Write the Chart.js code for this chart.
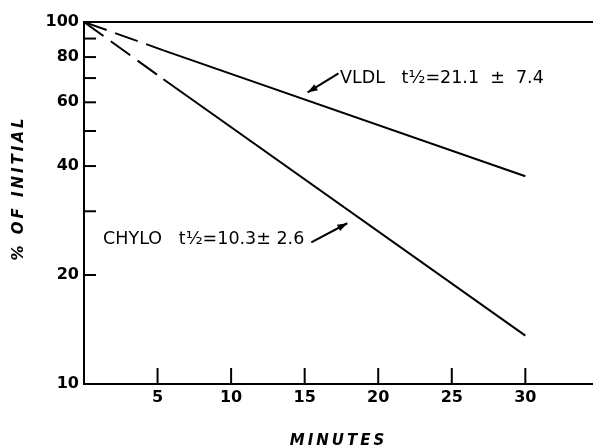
<!DOCTYPE html>
<html>
<head>
<meta charset="utf-8">
<script src="https://cdn.jsdelivr.net/npm/chart.js@4"></script>
<style>
html,body{margin:0;padding:0;background:#fff;}
canvas{display:block;}
</style>
</head>
<body>
<canvas id="c" width="593" height="448"></canvas>
<script>
// ---- data ----
const minutes = [0, 5.4, 30];
const vldl = [100, 83.5, 37.5];
const chylo = [100, 69.5, 13.6];
const xTicks = [5, 10, 15, 20, 25, 30];
const yTicks = [10, 20, 30, 40, 50, 60, 70, 80, 90, 100];
const yLabeled = [10, 20, 40, 60, 80, 100];
const xTitle = 'MINUTES';
const yTitle = '% OF INITIAL';
const vldlLabel = 'VLDL   t½=21.1  ±  7.4';
const chyloLabel = 'CHYLO   t½=10.3± 2.6';
// annotation anchors in data units: [textX, textY, arrowTailX, arrowTailY, arrowHeadX, arrowHeadY]
const vldlNote = [17.4, 69.9, 17.3, 72.1, 15.2, 63.9];
const chyloNote = [1.3, 25.1, 15.45, 24.6, 17.9, 27.8];

const toPts = (xs, ys) => xs.map((x, i) => ({x: x, y: ys[i]}));
const dashFirst = ctx => ctx.p0DataIndex === 0 ? [24, 9] : [];

const FONT = '"DejaVu Sans", sans-serif';

function arrow(ctx, x1, y1, x2, y2) {
  ctx.beginPath();
  ctx.moveTo(x1, y1);
  ctx.lineTo(x2, y2);
  ctx.lineWidth = 2;
  ctx.stroke();
  const a = Math.atan2(y2 - y1, x2 - x1);
  const L = 10, W = 3.5;
  ctx.beginPath();
  ctx.moveTo(x2, y2);
  ctx.lineTo(x2 - L * Math.cos(a) + W * Math.sin(a), y2 - L * Math.sin(a) - W * Math.cos(a));
  ctx.lineTo(x2 - L * Math.cos(a) - W * Math.sin(a), y2 - L * Math.sin(a) + W * Math.cos(a));
  ctx.closePath();
  ctx.fill();
}

const decor = {
  id: 'decor',
  afterDraw(chart) {
    const ctx = chart.ctx;
    const xs = chart.scales.x, ys = chart.scales.y;
    const area = chart.chartArea;
    ctx.save();
    ctx.strokeStyle = '#000';
    ctx.fillStyle = '#000';
    ctx.lineWidth = 2;
    // top line at 100
    const yTop = ys.getPixelForValue(100);
    ctx.beginPath();
    ctx.moveTo(area.left, yTop);
    ctx.lineTo(area.right, yTop);
    ctx.stroke();
    // y tick marks (inward)
    yTicks.forEach(v => {
      if (v === 10 || v === 100) return;
      const p = ys.getPixelForValue(v);
      ctx.beginPath();
      ctx.moveTo(area.left, p);
      ctx.lineTo(area.left + 12, p);
      ctx.stroke();
    });
    // x tick marks (inward)
    xTicks.forEach(v => {
      const p = xs.getPixelForValue(v);
      ctx.beginPath();
      ctx.moveTo(p, area.bottom);
      ctx.lineTo(p, area.bottom - 16);
      ctx.stroke();
    });
    // axis titles
    ctx.font = 'italic bold 15px ' + FONT;
    ctx.textAlign = 'center';
    ctx.textBaseline = 'middle';
    ctx.letterSpacing = '3px';
    ctx.fillText(xTitle, (area.left + area.right) / 2, 441);
    ctx.save();
    ctx.translate(19, 188);
    ctx.rotate(-Math.PI / 2);
    ctx.fillText(yTitle, 0, 0);
    ctx.restore();
    ctx.letterSpacing = '0px';
    // annotations
    ctx.font = '17.5px ' + FONT;
    ctx.textAlign = 'left';
    [[vldlLabel, vldlNote], [chyloLabel, chyloNote]].forEach(([txt, n]) => {
      ctx.fillText(txt, xs.getPixelForValue(n[0]), ys.getPixelForValue(n[1]));
      arrow(ctx, xs.getPixelForValue(n[2]), ys.getPixelForValue(n[3]),
                 xs.getPixelForValue(n[4]), ys.getPixelForValue(n[5]));
    });
    ctx.restore();
  }
};

new Chart(document.getElementById('c'), {
  type: 'line',
  data: {
    datasets: [
      {label: 'VLDL', data: toPts(minutes, vldl), borderColor: '#000', borderWidth: 2,
       pointRadius: 0, fill: false, segment: {borderDash: dashFirst}},
      {label: 'CHYLO', data: toPts(minutes, chylo), borderColor: '#000', borderWidth: 2,
       pointRadius: 0, fill: false, segment: {borderDash: dashFirst}}
    ]
  },
  options: {
    responsive: false,
    animation: false,
    devicePixelRatio: 1,
    layout: {padding: {top: 22, right: 0, bottom: 0, left: 0}},
    plugins: {legend: {display: false}, tooltip: {enabled: false}},
    scales: {
      x: {
        type: 'linear', min: 0, max: 34.6,
        grid: {display: false, drawTicks: false},
        border: {display: true, color: '#000', width: 2},
        ticks: {color: '#000', font: {family: FONT, size: 16, weight: 'bold'}, padding: 4, maxRotation: 0},
        afterBuildTicks: s => { s.ticks = xTicks.map(v => ({value: v})); },
        afterFit: s => { s.height = 64; }
      },
      y: {
        type: 'logarithmic', min: 10, max: 100,
        grid: {display: false, drawTicks: false},
        border: {display: true, color: '#000', width: 2},
        ticks: {color: '#000', font: {family: FONT, size: 16, weight: 'bold'}, padding: 5,
                callback: v => yLabeled.includes(v) ? String(v) : ''},
        afterBuildTicks: s => { s.ticks = yTicks.map(v => ({value: v})); },
        afterFit: s => { s.width = 84; }
      }
    }
  },
  plugins: [decor]
});
</script>
</body>
</html>
